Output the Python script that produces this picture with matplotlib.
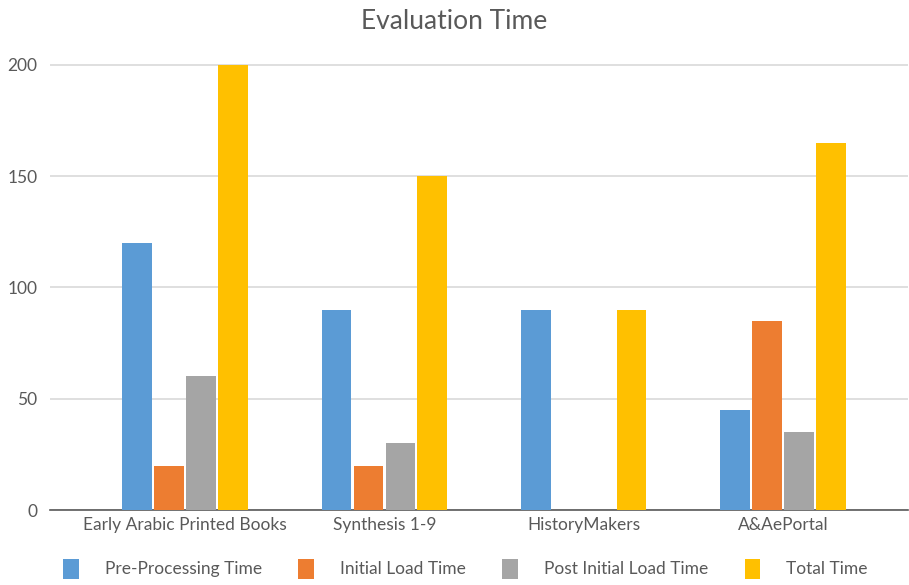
import matplotlib
matplotlib.use('agg')
import matplotlib.pyplot as plt
import numpy as np

categories = ['Early Arabic Printed Books', 'Synthesis 1-9', 'HistoryMakers', 'A&AePortal']
series_names = ['Pre-Processing Time', 'Initial Load Time', 'Post Initial Load Time', 'Total Time']
pre_processing = [120, 90, 90, 45]
initial_load = [20, 20, 0, 85]
post_initial_load = [60, 30, 0, 35]
total_time = [200, 150, 90, 165]
colors = ['#5b9bd5', '#ed7d31', '#a5a5a5', '#ffc000']

plt.rcParams['font.family'] = ['Lato', 'DejaVu Sans']
text_color = '#595959'

fig = plt.figure(figsize=(9.09, 5.85), dpi=100)
ax = fig.add_axes([0.055, 0.128, 0.944, 0.769])

x = np.arange(len(categories))
step = 0.16
width = 0.148
all_series = [pre_processing, initial_load, post_initial_load, total_time]
for i, (vals, name, c) in enumerate(zip(all_series, series_names, colors)):
    ax.bar(x + (i - 1.5) * step, vals, width, color=c, label=name, zorder=3)

ax.set_xlim(-0.677, 3.627)
ax.set_ylim(0, 202)
ax.set_yticks([0, 50, 100, 150, 200])
ax.set_xticks(x)
ax.set_xticklabels(categories)
ax.tick_params(axis='both', length=0, labelsize=12.5, colors=text_color)
ax.tick_params(axis='y', pad=9)
ax.tick_params(axis='x', pad=5)
ax.grid(axis='y', color='#d9d9d9', linewidth=1.2, zorder=0)
for s in ['top', 'right', 'left']:
    ax.spines[s].set_visible(False)
ax.spines['bottom'].set_color('#595959')
ax.spines['bottom'].set_linewidth(1.2)

fig.suptitle('Evaluation Time', y=0.985, fontsize=19, color=text_color)

fig.legend(loc='lower center', bbox_to_anchor=(0.512, -0.016), ncol=4, frameon=False,
           fontsize=12.5, labelcolor=text_color, handlelength=0.9, handleheight=1.4,
           columnspacing=2.1, handletextpad=1.5)

plt.savefig('out.png', dpi=100)
